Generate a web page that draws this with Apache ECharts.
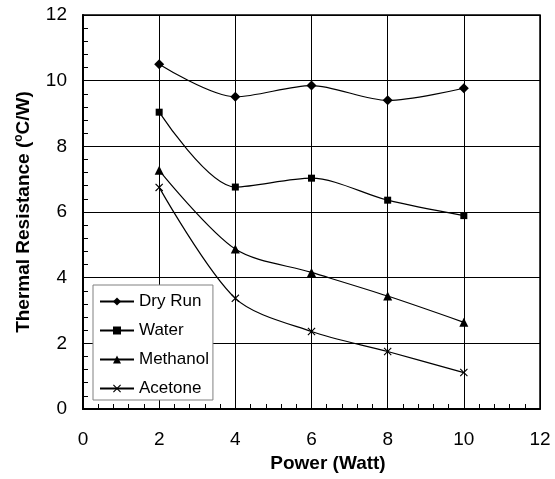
<!DOCTYPE html>
<html><head><meta charset="utf-8">
<script src="https://cdn.jsdelivr.net/npm/echarts@6/dist/echarts.min.js"></script>
<style>html,body{margin:0;padding:0;background:#fff}#c{width:555px;height:479px}</style>
</head><body><div id="c"></div>
<script>
const power = [2, 4, 6, 8, 10];
const dryRun = [10.5, 9.51, 9.85, 9.40, 9.77];
const water = [9.04, 6.76, 7.03, 6.36, 5.89];
const methanol = [7.27, 4.87, 4.16, 3.44, 2.64];
const acetone = [6.75, 3.37, 2.36, 1.75, 1.11];
const seriesNames = ['Dry Run', 'Water', 'Methanol', 'Acetone'];

const xPath = 'path://M0,1L1,0L5,4L9,0L10,1L6,5L10,9L9,10L5,6L1,10L0,9L4,5Z';
const pair = arr => power.map((p, i) => [p, arr[i]]);
const FONT = 'Liberation Sans, Arial, sans-serif';
function mk(name, data, symbol, size) {
  return {
    name, type: 'line', data: pair(data), smooth: 0.3,
    symbol, symbolSize: size,
    itemStyle: { color: '#000' },
    lineStyle: { color: '#000', width: 1.2 },
    emphasis: { disabled: true }, z: 3
  };
}
const chart = echarts.init(document.getElementById('c'), null, { renderer: 'canvas' });
chart.setOption({
  animation: false,
  backgroundColor: '#fff',
  textStyle: { fontFamily: FONT },
  grid: { left: 83, right: 15, top: 15, bottom: 70, show: true, borderColor: '#000', borderWidth: 1.5, backgroundColor: 'transparent' },
  legend: {
    orient: 'vertical', left: 93, top: 285,
    data: seriesNames,
    backgroundColor: '#fff', borderColor: '#808080', borderWidth: 1,
    padding: [8, 4, 3, 6], itemGap: 12, itemWidth: 34, itemHeight: 10,
    textStyle: { fontFamily: FONT, fontSize: 17, color: '#000' }, z: 10
  },
  xAxis: {
    type: 'value', min: 0, max: 12, interval: 2,
    name: 'Power (Watt)', nameLocation: 'middle', nameGap: 37,
    nameTextStyle: { fontFamily: FONT, fontSize: 19, fontWeight: 'bold', color: '#000', padding: [0, 0, 0, 33] },
    axisLine: { show: true, lineStyle: { color: '#000', width: 2 } },
    axisTick: { show: true, inside: true, length: 5, lineStyle: { color: '#000' } },
    minorTick: { show: true, splitNumber: 5, length: 5, lineStyle: { color: '#000' } },
    axisLabel: { fontFamily: FONT, fontSize: 19, color: '#000', margin: 21 },
    splitLine: { show: true, lineStyle: { color: '#000', width: 1 } }
  },
  yAxis: {
    type: 'value', min: 0, max: 12, interval: 2,
    name: '{n|Thermal Resistance (}{s|o}{n|C/W)}', nameLocation: 'middle', nameGap: 48,
    nameTextStyle: { fontFamily: FONT, fontSize: 19, fontWeight: 'bold', color: '#000',
      rich: { n: { fontFamily: FONT, fontSize: 19, fontWeight: 'bold', color: '#000' },
              s: { fontFamily: FONT, fontSize: 12, fontWeight: 'bold', color: '#000', verticalAlign: 'top', padding: [0, 0, 10, 0] } } },
    axisLine: { show: true, lineStyle: { color: '#000', width: 2 } },
    axisTick: { show: true, inside: true, length: 5, lineStyle: { color: '#000' } },
    minorTick: { show: true, splitNumber: 5, length: 5, lineStyle: { color: '#000' } },
    axisLabel: { fontFamily: FONT, fontSize: 19, color: '#000', margin: 16 },
    splitLine: { show: true, lineStyle: { color: '#000', width: 1 } }
  },
  series: [
    mk('Dry Run', dryRun, 'diamond', 10),
    mk('Water', water, 'rect', 7),
    mk('Methanol', methanol, 'triangle', 9),
    mk('Acetone', acetone, xPath, 8)
  ]
});
</script></body></html>
